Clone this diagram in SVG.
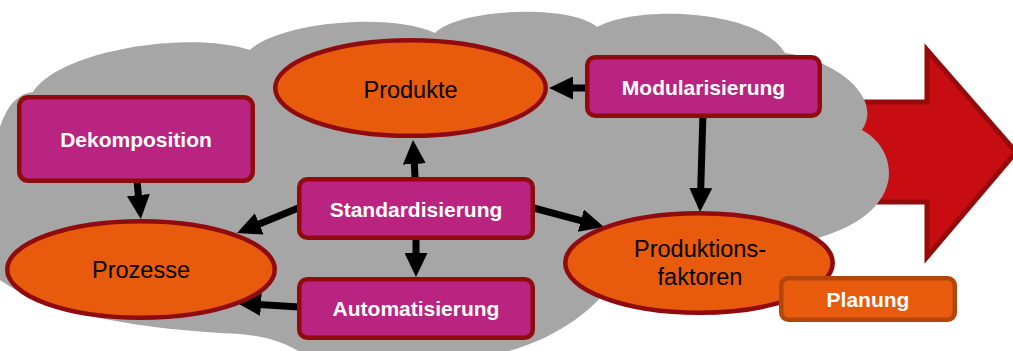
<svg xmlns="http://www.w3.org/2000/svg" width="1013" height="351" viewBox="0 0 1013 351">
  <style>
    .box { fill: #b8247f; stroke: #900b0e; stroke-width: 4.5; }
    .oval { fill: #e85a0c; stroke: #900b0e; stroke-width: 4.5; }
    .plan { fill: #e85a0c; stroke: #b4460c; stroke-width: 4.5; }
    .bold { font-family: "Liberation Sans", Arial, sans-serif; font-weight: bold; font-size: 21px; fill: #ffffff; text-anchor: middle; }
    .reg { font-family: "Liberation Sans", Arial, sans-serif; font-size: 23.5px; fill: #000000; text-anchor: middle; }
    .conn line { stroke: #000000; stroke-width: 7; marker-end: url(#head); }
  </style>
  <defs>
    <marker id="head" markerUnits="userSpaceOnUse" markerWidth="24" markerHeight="23" refX="2" refY="11.5" orient="auto" viewBox="0 0 24 23">
      <path d="M0,0 L24,11.5 L0,23 Z" fill="#000000"/>
    </marker>
  </defs>

  <!-- big red arrow in the background -->
  <path d="M840,102 L927,102 L927,50 L1016,152 L927,257 L927,202 L840,202 Z" fill="#c80d12" stroke="#970a0a" stroke-width="5" stroke-linejoin="miter"/>

  <!-- cloud -->
  <path d="M0,127 C8,104 18,94 33,92 C60,50 190,30 250,50 C280,22 390,12 435,33 C460,8 570,4 597,27 C640,4 760,10 785,53 C830,58 885,95 862,130 C900,150 910,215 810,240 C760,262 650,280 600,298 C580,320 545,342 505,352 L300,352 C282,341 262,336 240,334 C150,330 50,316 0,280 Z" fill="#a6a6a6"/>

  <!-- connectors -->
  <g id="connectors" class="conn">
    <line x1="592" y1="88" x2="571" y2="88"/>
    <line x1="703" y1="113" x2="700.7" y2="190"/>
    <line x1="136.7" y1="178" x2="138.6" y2="197.1"/>
    <line x1="302" y1="206.4" x2="257.4" y2="224.7"/>
    <line x1="415.3" y1="182" x2="414.2" y2="162"/>
    <line x1="530" y1="207" x2="582.8" y2="221.2"/>
    <line x1="416" y1="236" x2="416" y2="255"/>
    <line x1="303" y1="307.3" x2="259" y2="304.4"/>
  </g>

  <g id="produkte">
    <ellipse class="oval" cx="410.5" cy="88" rx="135.25" ry="47.75"/>
    <text class="reg" x="410.5" y="98">Produkte</text>
  </g>

  <g id="prozesse">
    <ellipse class="oval" cx="141" cy="269.5" rx="133.75" ry="48.25"/>
    <text class="reg" x="141" y="278">Prozesse</text>
  </g>

  <g id="produktionsfaktoren">
    <ellipse class="oval" cx="699" cy="263" rx="133.75" ry="49.75"/>
    <text class="reg" x="700" y="257">Produktions-</text>
    <text class="reg" x="700" y="285">faktoren</text>
  </g>

  <g id="modularisierung">
    <rect class="box" x="587.25" y="57.25" width="232.5" height="58.5" rx="8"/>
    <text class="bold" x="703.5" y="95">Modularisierung</text>
  </g>

  <g id="dekomposition">
    <rect class="box" x="19.25" y="97.25" width="233.5" height="83.5" rx="9"/>
    <text class="bold" x="136" y="147">Dekomposition</text>
  </g>

  <g id="standardisierung">
    <rect class="box" x="299.25" y="179.25" width="233.5" height="58.5" rx="8"/>
    <text class="bold" x="416" y="217">Standardisierung</text>
  </g>

  <g id="automatisierung">
    <rect class="box" x="299.25" y="279.25" width="233.5" height="58.5" rx="8"/>
    <text class="bold" x="416" y="316">Automatisierung</text>
  </g>

  <g id="planung">
    <rect class="plan" x="781.25" y="278.25" width="173.5" height="41.5" rx="7"/>
    <text class="bold" x="868" y="307">Planung</text>
  </g>
</svg>
